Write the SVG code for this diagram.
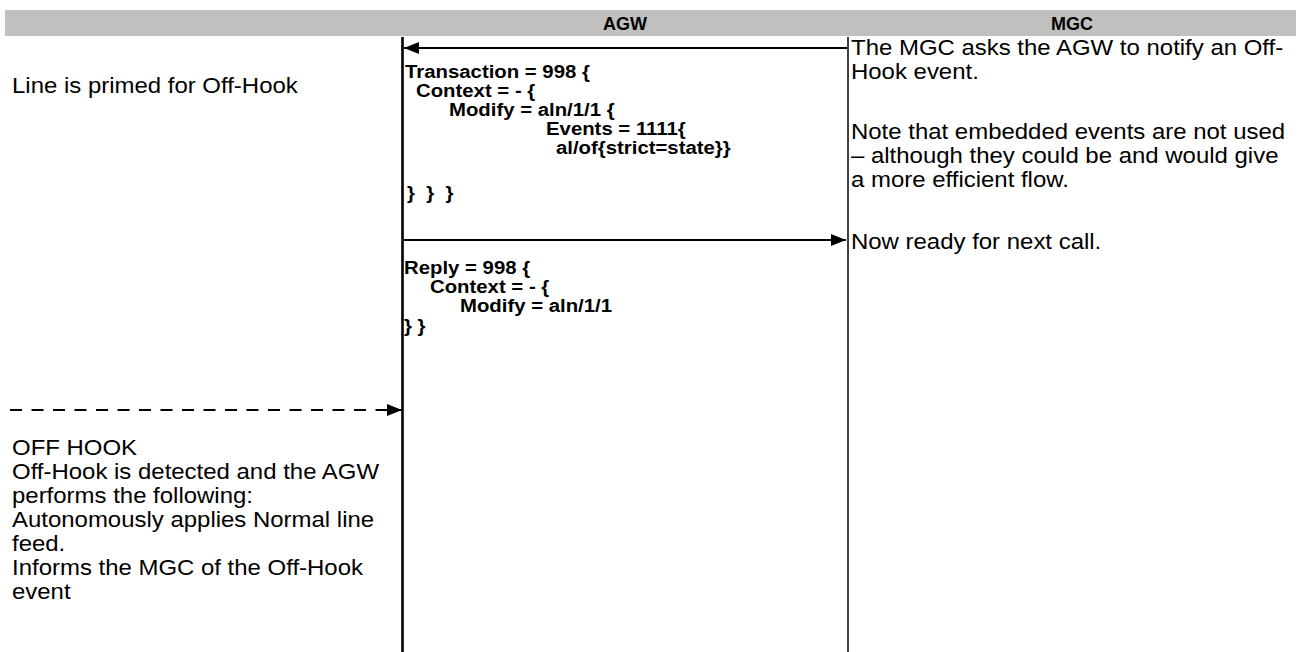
<svg xmlns="http://www.w3.org/2000/svg" width="1299" height="652" viewBox="0 0 1299 652">
<style>
.hdr{font-family:"Liberation Sans",Arial,sans-serif;font-weight:bold;font-size:18px;fill:#000}
.t{font-family:"Liberation Sans",Arial,sans-serif;font-size:21.5px;fill:#000}
.b{font-family:"Liberation Sans",Arial,sans-serif;font-weight:bold;font-size:18.5px;fill:#000}
.msg{stroke:#000;stroke-width:2;fill:none}
</style>
<defs>
<marker id="ah" viewBox="0 0 15 12" refX="15" refY="6" markerWidth="15" markerHeight="12" markerUnits="userSpaceOnUse" orient="auto">
<path d="M0,0 L15,6 L0,12 Z" fill="#000"/>
</marker>
</defs>
<g id="header">
<rect x="5" y="10" width="1291" height="26" fill="#c0c0c0"/>
<text class="hdr" x="625" y="30" text-anchor="middle">AGW</text>
<text class="hdr" x="1072" y="30" text-anchor="middle">MGC</text>
</g>
<g id="lifeline-agw">
<line x1="402.5" y1="37" x2="402.5" y2="652" stroke="#000" stroke-width="2.6"/>
</g>
<g id="lifeline-mgc">
<line x1="848" y1="37" x2="848" y2="652" stroke="#000" stroke-width="1.5"/>
</g>
<g id="connectors">
<line class="msg" x1="847" y1="48" x2="404" y2="48" marker-end="url(#ah)"/>
<line class="msg" x1="404" y1="240" x2="846" y2="240" marker-end="url(#ah)"/>
<line class="msg" x1="10" y1="410" x2="402" y2="410" stroke-dasharray="12 9.5" marker-end="url(#ah)"/>
</g>
<g id="note-line-primed">
<text class="t" transform="translate(12,93) scale(1.115,1)">Line is primed for Off-Hook</text>
</g>
<g id="msg-transaction">
<text class="b" transform="translate(405,78) scale(1.1,1)">Transaction = 998 {</text>
<text class="b" transform="translate(416,97) scale(1.1,1)">Context = - {</text>
<text class="b" transform="translate(449,116) scale(1.1,1)">Modify = aln/1/1 {</text>
<text class="b" transform="translate(546,135) scale(1.1,1)">Events = 1111{</text>
<text class="b" transform="translate(556,154) scale(1.1,1)">al/of{strict=state}}</text>
<text class="b" xml:space="preserve" transform="translate(407,199) scale(1.1,1)">}  }  }</text>
</g>
<g id="msg-reply">
<text class="b" transform="translate(404,274) scale(1.1,1)">Reply = 998 {</text>
<text class="b" transform="translate(430,293) scale(1.1,1)">Context = - {</text>
<text class="b" transform="translate(460,312) scale(1.1,1)">Modify = aln/1/1</text>
<text class="b" transform="translate(404,332) scale(1.1,1)">} }</text>
</g>
<g id="note-mgc">
<text class="t" transform="translate(851,55) scale(1.115,1)">The MGC asks the AGW to notify an Off-</text>
<text class="t" transform="translate(851,79) scale(1.115,1)">Hook event.</text>
<text class="t" transform="translate(851,139) scale(1.115,1)">Note that embedded events are not used</text>
<text class="t" transform="translate(851,163) scale(1.115,1)">– although they could be and would give</text>
<text class="t" transform="translate(851,187) scale(1.115,1)">a more efficient flow.</text>
<text class="t" transform="translate(851,249) scale(1.115,1)">Now ready for next call.</text>
</g>
<g id="note-off-hook">
<text class="t" transform="translate(12,455) scale(1.115,1)">OFF HOOK</text>
<text class="t" transform="translate(12,479) scale(1.115,1)">Off-Hook is detected and the AGW</text>
<text class="t" transform="translate(12,503) scale(1.115,1)">performs the following:</text>
<text class="t" transform="translate(12,527) scale(1.115,1)">Autonomously applies Normal line</text>
<text class="t" transform="translate(12,551) scale(1.115,1)">feed.</text>
<text class="t" transform="translate(12,575) scale(1.115,1)">Informs the MGC of the Off-Hook</text>
<text class="t" transform="translate(12,599) scale(1.115,1)">event</text>
</g>
</svg>
